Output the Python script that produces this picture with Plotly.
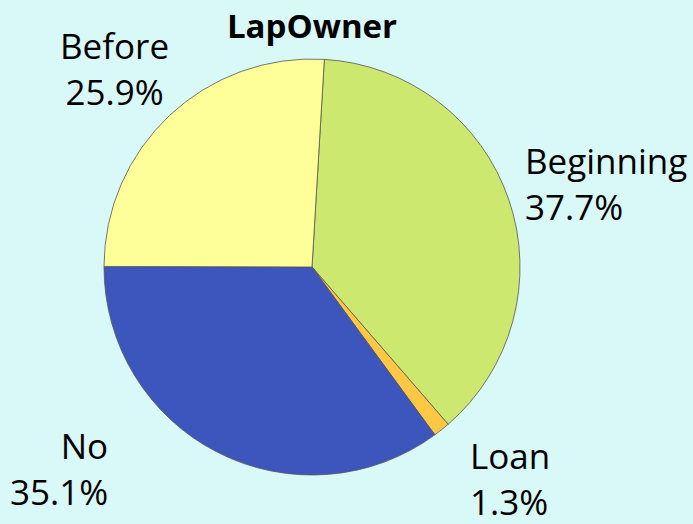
import plotly.graph_objects as go

labels = ["Beginning", "Loan", "No", "Before"]
values = [37.7, 1.3, 35.1, 25.9]
colors = ["#CDE86E", "#FFC844", "#3C56BE", "#FFFF99"]

W, H = 693, 524
cx, cy, r = 312, 267, 208
FONT = "Open Sans"

fig = go.Figure(go.Pie(
    labels=labels,
    values=values,
    sort=False,
    direction="clockwise",
    rotation=3.4,
    marker=dict(colors=colors, line=dict(color="#555555", width=0.8)),
    textinfo="none",
    hoverinfo="label+percent",
    showlegend=False,
    automargin=False,
    domain=dict(x=[(cx - r) / W, (cx + r) / W], y=[(H - cy - r) / H, (H - cy + r) / H]),
))

# label placement (pixels from top-left): x, y-center, anchor/alignment
label_pos = {
    "Beginning": (523, 184, "left"),
    "Loan": (468, 478, "left"),
    "No": (110, 468, "right"),
    "Before": (114, 68, "center"),
}
total = sum(values)
for lab, val in zip(labels, values):
    x, y, anc = label_pos[lab]
    fig.add_annotation(
        x=x / W, y=1 - y / H, xref="paper", yref="paper",
        xanchor=anc, yanchor="middle", align=anc,
        text=f"{lab}<br>{val / total * 100:.1f}%",
        showarrow=False,
        font=dict(size=35, color="black", family=FONT),
    )

fig.update_layout(
    width=W, height=H,
    margin=dict(l=0, r=0, t=0, b=0),
    paper_bgcolor="#D9F8F8",
    plot_bgcolor="#D9F8F8",
    title=dict(text="<b>LapOwner</b>", x=312 / W, xanchor="center", y=1 - 26 / H, yanchor="middle",
               font=dict(size=33, color="black", family=FONT)),
)

fig.write_html("out.html", config={"displayModeBar": False},
               post_script="document.body.style.margin='0';")
